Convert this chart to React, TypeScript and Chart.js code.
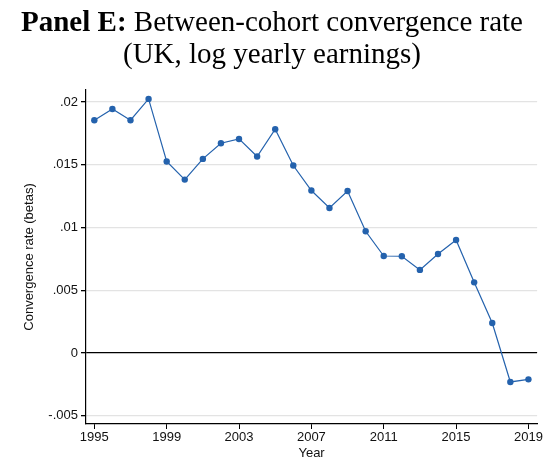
import React, { useEffect, useRef } from "react";
import { Chart, registerables } from "chart.js";

Chart.register(...registerables);

const years: number[] = [
  1995, 1996, 1997, 1998, 1999, 2000, 2001, 2002, 2003, 2004, 2005, 2006, 2007,
  2008, 2009, 2010, 2011, 2012, 2013, 2014, 2015, 2016, 2017, 2018, 2019,
];
const betas: number[] = [
  0.01855, 0.01945, 0.01855, 0.02025, 0.01526, 0.01382, 0.01547, 0.01672,
  0.01706, 0.01566, 0.01783, 0.01494, 0.01295, 0.01156, 0.01291, 0.0097,
  0.00773, 0.00771, 0.00662, 0.00789, 0.00901, 0.00563, 0.00239, -0.00231,
  -0.0021,
];
const xTicks: number[] = [1995, 1999, 2003, 2007, 2011, 2015, 2019];
const yTicks: number[] = [-0.005, 0, 0.005, 0.01, 0.015, 0.02];
const yTickLabels: string[] = ["-.005", "0", ".005", ".01", ".015", ".02"];

const titleBold = "Panel E:";
const titleRest = " Between-cohort convergence rate";
const titleLine2 = "(UK, log yearly earnings)";
const yTitle = "Convergence rate (betas)";
const xTitle = "Year";

const LINE_COLOR = "#2462ad";

export default function App() {
  const ref = useRef<HTMLCanvasElement | null>(null);

  useEffect(() => {
    if (!ref.current) return;
    const chart = new Chart(ref.current, {
      type: "line",
      data: {
        datasets: [
          {
            data: years.map((y, i) => ({ x: y, y: betas[i] })),
            borderColor: LINE_COLOR,
            backgroundColor: LINE_COLOR,
            borderWidth: 1.2,
            pointRadius: 3.2,
            pointBorderWidth: 0,
            tension: 0,
          },
        ],
      },
      options: {
        animation: false,
        responsive: false,
        maintainAspectRatio: false,
        layout: { padding: { top: 90, right: 5.5, left: 22, bottom: 0 } },
        plugins: {
          legend: { display: false },
          tooltip: { enabled: false },
          title: { display: false },
        },
        scales: {
          x: {
            type: "linear",
            min: 1994.54,
            max: 2019.48,
            afterBuildTicks: (s: any) => {
              s.ticks = xTicks.map((v) => ({ value: v }));
            },
            afterFit: (s: any) => {
              s.height = 39;
            },
            border: { color: "#000", width: 1.2 },
            grid: {
              drawOnChartArea: false,
              drawTicks: true,
              tickLength: 5,
              tickColor: "#000",
            },
            ticks: {
              color: "#111",
              font: { family: "Liberation Sans, Arial", size: 13 },
              padding: 1,
              maxRotation: 0,
              autoSkip: false,
              callback: (v: any) => String(v),
            },
            title: {
              display: true,
              text: xTitle,
              color: "#111",
              font: { family: "Liberation Sans, Arial", size: 13 },
              padding: { top: -4, bottom: 2 },
            },
          },
          y: {
            type: "linear",
            min: -0.00566,
            max: 0.02096,
            afterBuildTicks: (s: any) => {
              s.ticks = yTicks.map((v) => ({ value: v }));
            },
            afterFit: (s: any) => {
              s.width = 64;
            },
            border: { color: "#000", width: 1.2 },
            grid: {
              drawTicks: true,
              tickLength: 5,
              tickColor: "#000",
              color: (ctx: any) =>
                ctx.tick && Math.abs(ctx.tick.value) < 1e-9 ? "#000" : "#e3e3e3",
              lineWidth: 1.3,
            },
            ticks: {
              color: "#111",
              font: { family: "Liberation Sans, Arial", size: 13 },
              padding: 3,
              autoSkip: false,
              callback: (v: any) => {
                const i = yTicks.findIndex((t) => Math.abs(t - v) < 1e-9);
                return i >= 0 ? yTickLabels[i] : "";
              },
            },
            title: {
              display: true,
              text: yTitle,
              color: "#111",
              font: { family: "Liberation Sans, Arial", size: 13 },
              padding: { top: 0, bottom: 0 },
            },
          },
        },
      },
    });
    return () => chart.destroy();
  }, []);

  return (
    <div
      style={{
        position: "fixed",
        left: 0,
        top: 0,
        width: 544,
        height: 463,
        background: "#fff",
      }}
    >
      <canvas ref={ref} width={544} height={463} style={{ display: "block" }} />
      <div
        style={{
          position: "absolute",
          left: 0,
          top: 5,
          width: 544,
          textAlign: "center",
          fontFamily: "'Liberation Serif', 'DejaVu Serif', serif",
          fontSize: 29,
          lineHeight: "32px",
          color: "#000",
        }}
      >
        <div>
          <span style={{ fontWeight: "bold" }}>{titleBold}</span>
          <span>{titleRest}</span>
        </div>
        <div>{titleLine2}</div>
      </div>
    </div>
  );
}
